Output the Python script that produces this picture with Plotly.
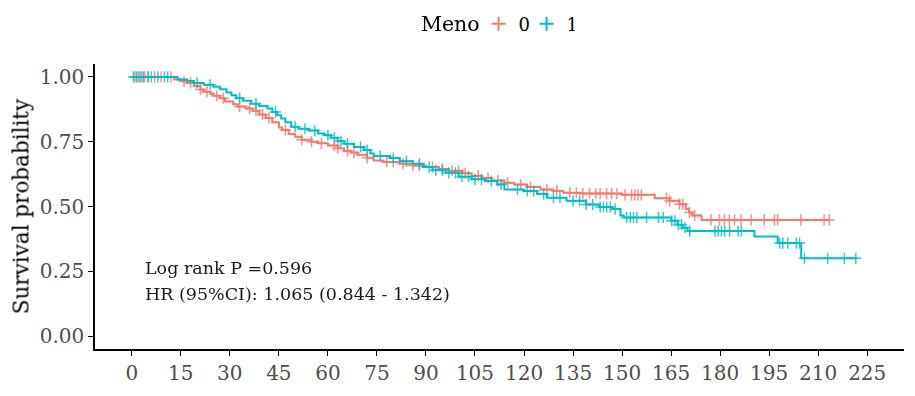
import numpy as np
import plotly.graph_objects as go

# ---- data ----
time_0 = [0, 13, 15, 17, 19, 21, 22, 24, 25, 27, 28.5, 31, 32.5, 35, 37, 39, 41, 43, 45, 46, 48, 50, 52,
          55, 57, 60, 63, 65, 67, 69, 72, 74, 77, 82, 86, 90, 94, 97, 101, 104, 107, 110, 114, 117, 121,
          125, 129, 132, 137, 150, 160, 164.5, 167.5, 169.5, 170.5, 171.5, 174.3, 213.5]
surv_0 = [1.0, 0.99, 0.983, 0.977, 0.965, 0.952, 0.943, 0.935, 0.927, 0.918, 0.905, 0.895, 0.886, 0.878,
          0.870, 0.855, 0.842, 0.825, 0.805, 0.795, 0.780, 0.768, 0.758, 0.750, 0.744, 0.735, 0.725, 0.715,
          0.708, 0.700, 0.688, 0.678, 0.672, 0.665, 0.658, 0.652, 0.645, 0.638, 0.628, 0.618, 0.610, 0.600,
          0.592, 0.585, 0.575, 0.566, 0.560, 0.553, 0.550, 0.545, 0.532, 0.522, 0.509, 0.490, 0.477, 0.465,
          0.448, 0.448]
censor_0 = [1, 2, 3, 4, 5, 7, 9, 12, 16, 18, 21, 23, 26, 28, 33, 36, 38, 40, 42, 47, 52, 55, 58, 62, 63, 66,
            68, 72, 78, 80, 83, 86, 88, 92, 95, 98, 100, 102, 106, 109, 112, 115, 119, 122, 127, 130, 134,
            136, 138, 140, 142, 143.3, 145.3, 146.8, 148.4, 150.9, 152.9, 153.9, 154.9, 155.9, 163.6, 164.6,
            167.6, 168.6, 170.6, 172.2, 177.2, 179.8, 181.3, 182.8, 184.4, 186.4, 189.5, 193.5, 196.6, 197.6,
            204.7, 211.8, 213.4]

time_1 = [0, 14, 17, 19, 22, 25, 27, 29, 30.5, 32, 34, 36.5, 39, 41.5, 43, 44.5, 45.7, 47, 48.8, 51, 54, 57,
          59, 61, 63, 65, 68, 71, 73, 74, 79, 82, 86, 89, 92, 96, 100, 104, 108, 111.8, 114, 120, 124, 127,
          133, 139, 143, 147, 149.5, 150.5, 165, 167, 168.5, 170, 190.5, 197.6, 204.8, 222]
surv_1 = [1.0, 0.99, 0.984, 0.977, 0.970, 0.962, 0.953, 0.940, 0.929, 0.918, 0.908, 0.897, 0.888, 0.878,
          0.865, 0.852, 0.840, 0.825, 0.808, 0.800, 0.793, 0.782, 0.775, 0.765, 0.752, 0.742, 0.730, 0.718,
          0.705, 0.695, 0.687, 0.675, 0.665, 0.652, 0.640, 0.630, 0.615, 0.605, 0.598, 0.585, 0.566, 0.560,
          0.548, 0.534, 0.522, 0.508, 0.498, 0.490, 0.465, 0.458, 0.445, 0.430, 0.418, 0.405, 0.384, 0.359,
          0.300, 0.300]
censor_1 = [0.5, 1.5, 2.5, 3.5, 5, 6, 8, 10, 11, 20, 24, 33, 38, 44, 50, 53, 56, 60, 62, 64, 66, 70, 72, 76,
            80, 84, 88, 91, 93, 95, 97, 99, 101, 103, 105, 107, 110, 113, 118, 121, 123, 126, 129, 131, 135,
            137, 139, 141, 143.3, 144.3, 145.3, 146.4, 147.9, 151.4, 152.5, 153.5, 154.5, 157.5, 161.1, 162.6,
            165.2, 166.2, 167.2, 168.2, 169.2, 170.7, 178.4, 179.4, 180.4, 181.4, 182.9, 185.5, 186.5, 198.2,
            199.2, 200.7, 203.3, 204.3, 205.8, 212.9, 218, 221.5]

groups = ["0", "1"]
colors = ["#F8766D", "#00BFC4"]
legend_title = "Meno"
x_ticks = list(range(0, 226, 15))
y_ticks = [0.0, 0.25, 0.5, 0.75, 1.0]
y_tick_labels = ["0.00", "0.25", "0.50", "0.75", "1.00"]
annot_lines = ["Log rank P =0.596", "HR (95%CI): 1.065 (0.844 - 1.342)"]

FONT = "DejaVu Serif"


def step_at(times, surv, t):
    idx = np.searchsorted(np.array(times), np.array(t), side="right") - 1
    return np.array(surv)[idx]


fig = go.Figure()
series = [(time_0, surv_0, censor_0), (time_1, surv_1, censor_1)]
for (tt, ss, cc), g, col in zip(series, groups, colors):
    fig.add_trace(go.Scatter(x=tt, y=ss, mode="lines", line=dict(color=col, width=2, shape="hv"),
                             showlegend=False, hoverinfo="skip"))
    fig.add_trace(go.Scatter(x=cc, y=step_at(tt, ss, cc), mode="markers",
                             marker=dict(symbol="cross-thin", size=8, line=dict(color=col, width=1.5)),
                             opacity=0.8, showlegend=False))
    fig.add_trace(go.Scatter(x=[None], y=[None], mode="markers", name=g,
                             marker=dict(symbol="cross-thin", size=10, line=dict(color=col, width=2))))

fig.add_annotation(x=3.5, y=0.262, xref="x", yref="y", text=annot_lines[0], showarrow=False,
                   xanchor="left", yanchor="middle", font=dict(family=FONT, size=17.5, color="#1a1a1a"))
fig.add_annotation(x=3.5, y=0.162, xref="x", yref="y", text=annot_lines[1], showarrow=False,
                   xanchor="left", yanchor="middle", font=dict(family=FONT, size=17.5, color="#1a1a1a"))
# legend title
fig.add_annotation(x=0.4754, y=1.14, xref="paper", yref="paper", text=legend_title, showarrow=False,
                   xanchor="right", yanchor="middle", xshift=2,
                   font=dict(family=FONT, size=20.5, color="black"))

# page body has an 8px default margin, so the figure is sized/offset to compensate
fig.update_layout(
    width=907, height=388,
    margin=dict(l=84, r=11, t=56, b=46),
    paper_bgcolor="white", plot_bgcolor="white",
    font=dict(family=FONT, color="black"),
    legend=dict(orientation="h", x=0.4741, xref="paper", xanchor="left", y=0.9588, yref="container",
                yanchor="middle", font=dict(size=18, family=FONT), itemwidth=30, tracegroupgap=0,
                entrywidth=3),
)
fig.update_xaxes(range=[-11.25, 236.25], tickmode="array", tickvals=x_ticks,
                 ticks="outside", ticklen=5, tickwidth=1, tickcolor="black",
                 showline=True, linecolor="black", linewidth=1.5, showgrid=False, zeroline=False,
                 tickfont=dict(size=20, color="#4D4D4D", family=FONT))
fig.update_yaxes(range=[-0.05, 1.05], tickmode="array", tickvals=y_ticks, ticktext=y_tick_labels,
                 ticks="outside", ticklen=5, tickwidth=1, tickcolor="black",
                 showline=True, linecolor="black", linewidth=1.5, showgrid=False, zeroline=False,
                 tickfont=dict(size=20, color="#4D4D4D", family=FONT),
                 title=dict(text="Survival probability", font=dict(size=21.5, family=FONT, color="black"),
                            standoff=6))

fig.write_html("out.html")
